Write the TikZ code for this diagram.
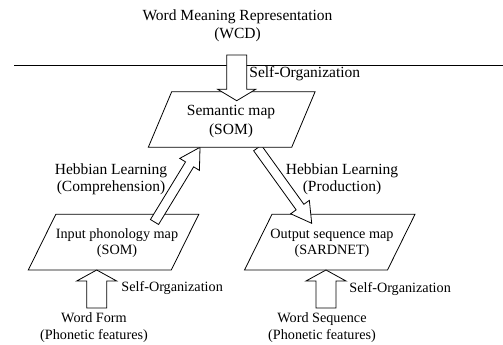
\documentclass[tikz,border=0pt]{standalone}
\usepackage{fontspec}
\setmainfont{Liberation Serif}
\usepackage{tikz}
\usetikzlibrary{positioning}
\usetikzlibrary{calc}

% hollow block arrow: from, to, half shaft, half head, head length
\newcommand{\blockarrow}[5]{%
  \coordinate (hb) at ($(#2)!#5!(#1)$);
  \draw [fill=white, line join=miter]
    ($(#1)!#3!90:(#2)$) -- ($(hb)!#3!-90:(#1)$) -- ($(hb)!#4!-90:(#1)$)
    -- (#2) -- ($(hb)!#4!90:(#1)$) -- ($(hb)!#3!90:(#1)$)
    -- ($(#1)!#3!-90:(#2)$) -- cycle;
}

\begin{document}
\begin{tikzpicture}[x=1pt, y=1pt, line width=0.8pt,
    big/.style={font=\fontsize{15.5}{16.7}\selectfont, align=center, inner sep=0pt},
    small/.style={font=\fontsize{14.2}{17}\selectfont, align=center, inner sep=0pt},
    mapshape/.style={draw, fill=white, line join=miter}]
    \useasboundingbox (0,0) rectangle (503,345);

    % Input
    \node [big, font=\fontsize{15.5}{18}\selectfont] (wmr) at (237.5,319) {Word Meaning Representation\\(WCD)};
    \coordinate (sepL) at (14,280);
    \coordinate (sepR) at (503,280);
    \draw (sepL) -- (sepR);

    % Lower maps
    \coordinate (inbl) at (28.3,75);
    \coordinate (outbl) at (244.5,75);
    \draw [mapshape] (inbl) -- ++(143,0) -- ++(27.5,55.7) -- ++(-143,0) -- cycle;
    \draw [mapshape] (outbl) -- ++(143,0) -- ++(27.5,55.7) -- ++(-143,0) -- cycle;
    \node [small, font=\fontsize{14.2}{16}\selectfont] (inmap) at (117,102) {Input phonology map\\(SOM)};
    \node [small, font=\fontsize{14.2}{16}\selectfont] (outmap) at (332,102) {Output sequence map\\(SARDNET)};

    % Hebbian arrows
    \coordinate (comptail) at (154.5,123);
    \coordinate (comptip) at (200,197.7);
    \coordinate (prodtail) at (257.5,197);
    \coordinate (prodtip) at (311.7,121.7);
    \blockarrow{comptail}{comptip}{4.75pt}{11.5pt}{20pt}
    \blockarrow{prodtail}{prodtip}{4.75pt}{11.5pt}{20pt}
    \node [big] (comp) at (111,166) {Hebbian Learning\\(Comprehension)};
    \node [big] (prod) at (342,166) {Hebbian Learning\\(Production)};

    % Semantic map
    \coordinate (sembl) at (148.3,197.7);
    \draw [mapshape] (sembl) -- ++(143.4,0) -- ++(23.4,55.6) -- ++(-143.4,0) -- cycle;
    \node [big, font=\fontsize{15.5}{19}\selectfont] (semmap) at (231,223.3) {Semantic map\\(SOM)};
    \coordinate (topsrc) at (236.7,290);
    \coordinate (toptip) at (236.7,244.3);
    \blockarrow{topsrc}{toptip}{10pt}{19pt}{11.4pt}
    \node [big, anchor=west] (selftop) at (249,271) {Self-Organization};

    % Features
    \node [small] (wform) at (94,17.5) {Word Form\\(Phonetic features)};
    \node [small] (wseq) at (322,17.5) {Word Sequence\\(Phonetic features)};
    \coordinate (formtop) at (96.7,37);
    \coordinate (formtip) at (96.7,75);
    \coordinate (seqtop) at (326,37);
    \coordinate (seqtip) at (326,75);
    \blockarrow{formtop}{formtip}{10pt}{20pt}{11pt}
    \blockarrow{seqtop}{seqtip}{10pt}{20pt}{11pt}
    \node [small, anchor=west] (selfin) at (121,57) {Self-Organization};
    \node [small, anchor=west] (selfout) at (349,56) {Self-Organization};
\end{tikzpicture}
\end{document}
